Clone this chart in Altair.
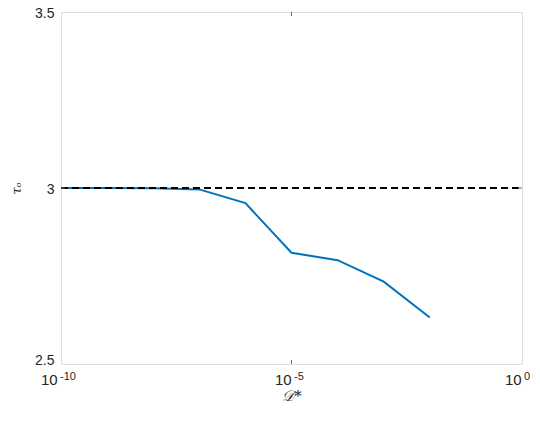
import altair as alt
import pandas as pd

# data
d_star = [1e-10, 1e-9, 1e-8, 1e-7, 1e-6, 1e-5, 1e-4, 1e-3, 1e-2]
tau_o = [3.0, 3.0, 2.999, 2.996, 2.957, 2.816, 2.795, 2.734, 2.632]
ref_x = [1e-10, 1.0]
ref_y = [3.0, 3.0]
x_ticks = [1e-10, 1e-5, 1.0]
x_tick_base = ["10", "10", "10"]
x_tick_exp = ["-10", "-5", "0"]
y_ticks = [2.5, 3.0, 3.5]

W, H = 461, 352
FONT = "Liberation Sans"
TXT = "#262626"
FRAME = "#707070"

xs = alt.Scale(type="log", domain=[1e-10, 1.0], nice=False)
ys = alt.Scale(domain=[2.5, 3.5], nice=False, zero=False)

line_df = pd.DataFrame({"D": d_star, "tau": tau_o})
ref_df = pd.DataFrame({"D": ref_x, "tau": ref_y})
xt_df = pd.DataFrame({"D": x_ticks, "base": x_tick_base, "exp": x_tick_exp})
yt_df = pd.DataFrame({"tau": [3.0]})
xmid_df = pd.DataFrame({"D": [1e-5]})

x_enc = alt.X("D:Q", scale=xs,
              axis=alt.Axis(labels=False, ticks=False, domain=False, grid=False,
                            title="𝒟*", titleFont="DejaVu Serif", titleFontStyle="italic",
                            titleFontWeight="normal", titleFontSize=15, titleColor=TXT,
                            titlePadding=24))
y_enc = alt.Y("tau:Q", scale=ys,
              axis=alt.Axis(values=y_ticks, format=".1~f", ticks=False, tickSize=0, domain=False,
                            grid=False, labelFont=FONT, labelFontSize=14, labelColor=TXT,
                            labelPadding=7,
                            labelOffset={"condition": {"test": "datum.value <= 2.5", "value": -4},
                                         "value": 1.5},
                            title="τₒ", titleFont="DejaVu Serif",
                            titleFontStyle="italic", titleFontWeight="normal", titleFontSize=13,
                            titleColor=TXT, titleX=-45, titleY=H / 2, titleBaseline="middle"))

blue = alt.Chart(line_df).mark_line(color="#0072BD", strokeWidth=2).encode(x=x_enc, y=y_enc)
dashed = alt.Chart(ref_df).mark_line(color="black", strokeWidth=2, strokeDash=[7, 4]).encode(
    x=alt.X("D:Q", scale=xs), y=alt.Y("tau:Q", scale=ys))

tick_bot = alt.Chart(xmid_df).mark_rule(color=FRAME, strokeWidth=1).encode(
    x=alt.X("D:Q", scale=xs), y=alt.value(H), y2=alt.value(H - 4))
tick_top = alt.Chart(xmid_df).mark_rule(color=FRAME, strokeWidth=1).encode(
    x=alt.X("D:Q", scale=xs), y=alt.value(0), y2=alt.value(4))
tick_left = alt.Chart(yt_df).mark_rule(color=FRAME, strokeWidth=1).encode(
    y=alt.Y("tau:Q", scale=ys), x=alt.value(0), x2=alt.value(4))
tick_right = alt.Chart(yt_df).mark_rule(color=FRAME, strokeWidth=1).encode(
    y=alt.Y("tau:Q", scale=ys), x=alt.value(W), x2=alt.value(W - 4))

# tick labels "10" with a superscript exponent, each pair centred on its tick
# (the last one kept inside the page edge)
label_layers = []
for i, (val, b, e) in enumerate(zip(x_ticks, x_tick_base, x_tick_exp)):
    total = 19 + 7 * len(e)
    left = -total / 2
    if i == len(x_ticks) - 1:
        left = 9 - total
    src = alt.Chart(xt_df).transform_filter(alt.datum.exp == e)
    label_layers.append(src.mark_text(font=FONT, fontSize=15, color=TXT, align="left",
                                      baseline="alphabetic", dx=left).encode(
        x=alt.X("D:Q", scale=xs), y=alt.value(H + 21), text="base:N"))
    label_layers.append(src.mark_text(font=FONT, fontSize=11, color=TXT, align="left",
                                      baseline="alphabetic", dx=left + 19).encode(
        x=alt.X("D:Q", scale=xs), y=alt.value(H + 16), text="exp:N"))

chart = alt.layer(blue, dashed, tick_bot, tick_top, tick_left, tick_right, *label_layers).properties(
    width=W, height=H,
    autosize=alt.AutoSizeParams(type="none"),
    padding={"left": 53, "top": 4, "right": 10, "bottom": 50},
).configure_view(stroke=FRAME, strokeWidth=1).configure(background="white")

chart.save("out.html", embed_options={"renderer": "svg", "actions": False})
